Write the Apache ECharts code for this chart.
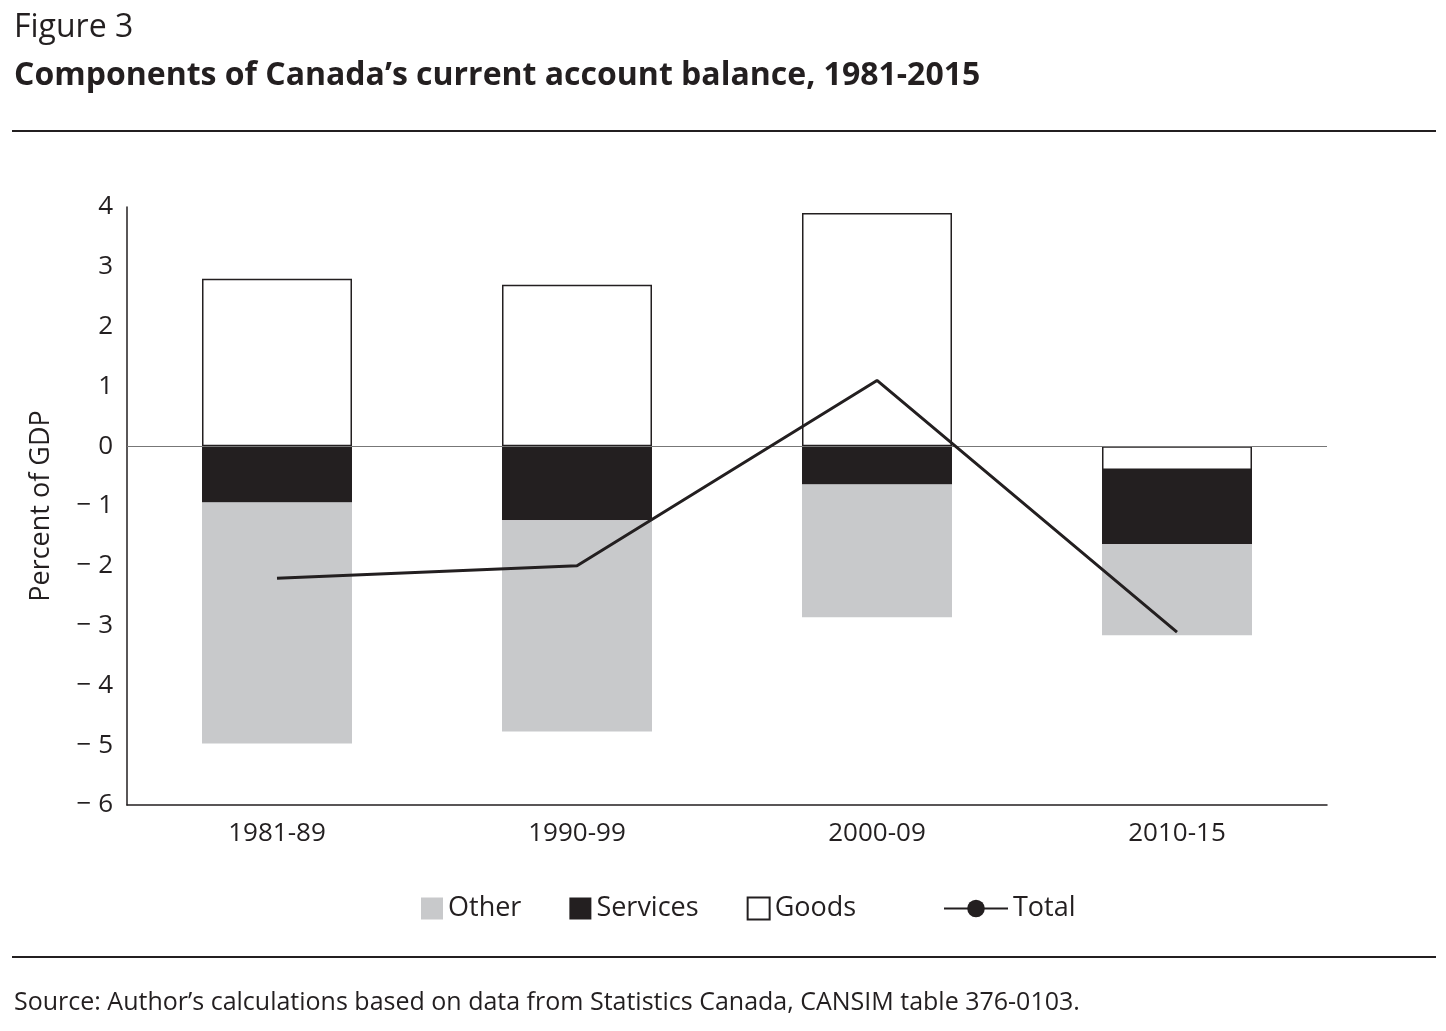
<!DOCTYPE html>
<html>
<head>
<meta charset="utf-8">
<script src="https://cdn.jsdelivr.net/npm/echarts@6/dist/echarts.min.js"></script>
<style>html,body{margin:0;padding:0;background:#fff}#box{width:1446px;height:1031px}</style>
</head>
<body>
<div id="box"></div>
<script>
var categories = ['1981-89', '1990-99', '2000-09', '2010-15'];
var goods = [2.8, 2.7, 3.9, -0.4];
var services = [-0.94, -1.24, -0.64, -1.24];
var other = [-4.03, -3.53, -2.22, -1.52];
var total = [-2.21, -2.0, 1.1, -3.11];

var font = '"Open Sans", "DejaVu Sans", sans-serif';
var chart = echarts.init(document.getElementById('box'));
chart.setOption({
    textStyle: { fontFamily: font },
    animation: false,
    grid: { left: 127, right: 119, top: 207, bottom: 226 },
    graphic: [
        { type: 'text', left: 14, top: 12, style: { text: 'Figure 3', fontSize: 32, fontFamily: font, fill: '#231f20' } },
        { type: 'text', left: 14, top: 60, style: { text: 'Components of Canada\u2019s current account balance, 1981-2015', fontSize: 32, fontWeight: 'bold', fontFamily: font, fill: '#231f20' } },
        { type: 'line', shape: { x1: 12, y1: 131, x2: 1436, y2: 131 }, style: { stroke: '#231f20', lineWidth: 2 } },
        { type: 'line', shape: { x1: 12, y1: 957, x2: 1436, y2: 957 }, style: { stroke: '#231f20', lineWidth: 2 } },
        { type: 'text', left: 14, top: 990, style: { text: 'Source: Author\u2019s calculations based on data from Statistics Canada, CANSIM table 376-0103.', fontSize: 25, fontFamily: font, fill: '#231f20' } }
    ],
    legend: [
        { data: ['Other', 'Services', 'Goods'], left: 416, top: 890, itemWidth: 22, itemHeight: 22, itemGap: 48,
          icon: 'rect', textStyle: { fontSize: 27, color: '#231f20', fontFamily: font } },
        { data: ['Total'], left: 938, top: 890, itemWidth: 64, itemHeight: 22,
          textStyle: { fontSize: 27, color: '#231f20', fontFamily: font } }
    ],
    xAxis: {
        type: 'category', data: categories,
        axisLine: { onZero: false, lineStyle: { color: '#231f20', width: 1.5 } },
        axisTick: { inside: true, length: 10, lineStyle: { color: '#231f20', width: 1.5 } },
        axisLabel: { fontSize: 26, color: '#231f20', margin: 16 }
    },
    yAxis: {
        type: 'value', min: -6, max: 4, interval: 1,
        name: 'Percent of GDP', nameLocation: 'middle', nameGap: 72,
        nameTextStyle: { fontSize: 27, color: '#231f20' },
        axisLine: { show: true, lineStyle: { color: '#231f20', width: 1.5 } },
        axisTick: { show: false },
        splitLine: { show: false },
        axisLabel: { fontSize: 26, color: '#231f20', margin: 14,
            formatter: function (v) { return v < 0 ? '\u2212 ' + Math.abs(v) : String(v); } }
    },
    series: [
        { name: 'Goods', type: 'bar', stack: 'a', barWidth: '50%', data: goods,
          itemStyle: { color: '#fff', borderColor: '#231f20', borderWidth: 1.5 },
          markLine: { silent: true, symbol: 'none', label: { show: false },
            lineStyle: { color: '#777', width: 1, type: 'solid' }, data: [{ yAxis: 0 }] } },
        { name: 'Services', type: 'bar', stack: 'a', data: services, itemStyle: { color: '#231f20' } },
        { name: 'Other', type: 'bar', stack: 'a', data: other, itemStyle: { color: '#c8c9cb' } },
        { name: 'Total', type: 'line', data: total, symbol: 'none', z: 5,
          lineStyle: { color: '#231f20', width: 3 }, itemStyle: { color: '#231f20' } }
    ]
});
</script>
</body>
</html>
